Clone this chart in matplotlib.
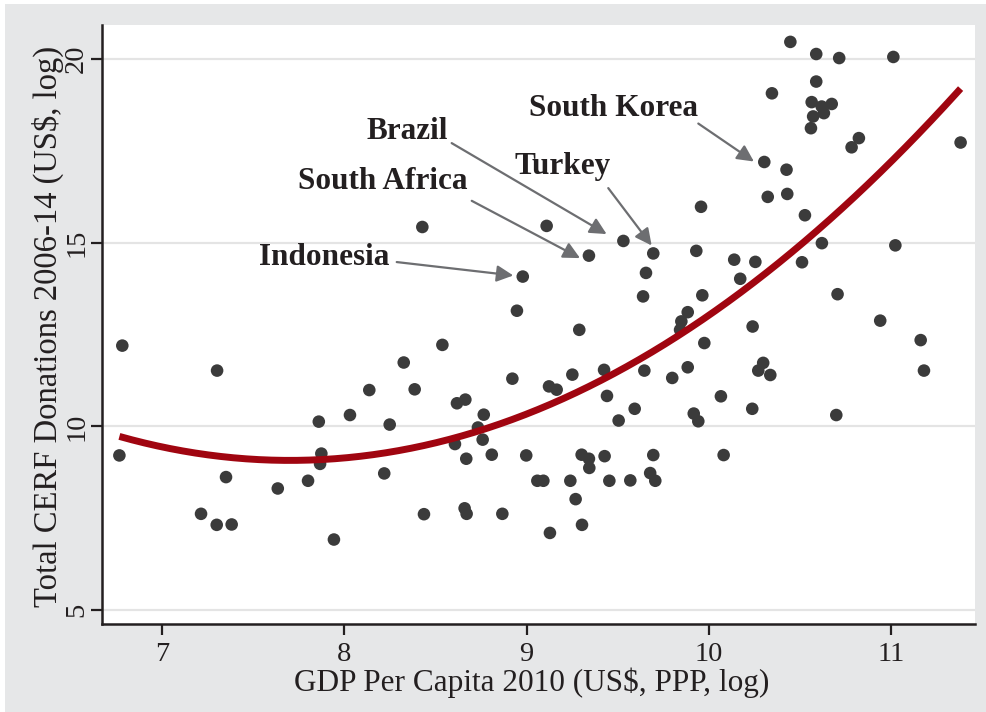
import numpy as np
import matplotlib
matplotlib.use("Agg")
import matplotlib.pyplot as plt
from matplotlib.patches import Rectangle

# ---- data ----
gdp = [6.782, 7.302, 6.766, 7.860, 8.031, 8.137, 8.249, 8.326, 7.874, 7.867,
       7.351, 7.635, 7.801, 8.219, 7.214, 7.300, 7.382, 7.943, 8.947, 9.289,
       8.538, 8.386, 8.618, 8.664, 8.765, 8.922, 9.123, 9.165, 9.251, 9.425,
       9.441, 9.646, 9.799, 9.849, 9.842, 9.884, 9.884, 9.593, 9.505, 9.917,
       9.942, 8.733, 8.607, 8.759, 8.669, 8.809, 8.998, 9.302, 9.342, 9.344,
       9.428, 9.695, 9.678, 9.706, 9.059, 9.092, 9.240, 9.454, 9.569, 9.269,
       8.437, 8.660, 8.671, 8.867, 9.304, 9.128, 9.655, 9.639, 10.240, 10.940,
       11.162, 11.180, 9.975, 10.298, 10.271, 10.337, 10.066, 10.238, 10.699, 10.081,
       8.428, 9.110, 9.531, 9.695, 9.342, 8.979, 10.447, 10.589, 10.715, 11.012,
       10.589, 10.346, 10.564, 10.619, 10.674, 10.572, 10.631, 10.560, 10.823, 10.783,
       11.381, 10.304, 10.426, 10.323, 10.430, 9.957, 10.527, 10.620, 11.023, 9.931,
       10.139, 10.255, 10.511, 10.172, 9.964, 10.706]
cerf = [12.20, 11.52, 9.21, 10.13, 10.31, 10.99, 10.05, 11.74, 9.26, 8.98,
        8.62, 8.31, 8.52, 8.72, 7.62, 7.32, 7.33, 6.92, 13.15, 12.63,
        12.22, 11.01, 10.63, 10.73, 10.32, 11.30, 11.09, 11.00, 11.41, 11.54,
        10.83, 11.52, 11.32, 12.86, 12.63, 13.11, 11.61, 10.48, 10.16, 10.35,
        10.14, 9.97, 9.52, 9.64, 9.12, 9.23, 9.21, 9.23, 9.12, 8.87,
        9.19, 9.22, 8.73, 8.52, 8.52, 8.52, 8.52, 8.52, 8.53, 8.02,
        7.61, 7.77, 7.62, 7.62, 7.32, 7.10, 14.18, 13.54, 12.72, 12.88,
        12.35, 11.52, 12.27, 11.73, 11.52, 11.40, 10.82, 10.48, 10.31, 9.22,
        15.43, 15.46, 15.05, 14.71, 14.65, 14.08, 20.47, 20.14, 20.03, 20.06,
        19.39, 19.07, 18.83, 18.71, 18.78, 18.44, 18.53, 18.12, 17.85, 17.60,
        17.73, 17.20, 16.99, 16.25, 16.33, 15.98, 15.75, 14.99, 14.93, 14.78,
        14.54, 14.48, 14.47, 14.02, 13.57, 13.60]

x_ticks = [7, 8, 9, 10, 11]
y_ticks = [5, 10, 15, 20]

# labelled countries: name, text centre (data), arrow start, arrow tip
labels = ["Indonesia", "South Africa", "Brazil", "Turkey", "South Korea"]
label_xy = [(7.891, 14.605), (8.210, 16.66), (8.344, 18.035), (9.197, 17.077), (9.479, 18.647)]
arrow_from = [(8.2875, 14.475), (8.699, 16.143), (8.589, 17.714), (9.448, 16.489), (9.942, 18.247)]
arrow_to = [(8.927, 14.110), (9.293, 14.583), (9.439, 15.237), (9.686, 14.927), (10.247, 17.213)]

# ---- style ----
plt.rcParams['font.family'] = ['Liberation Serif', 'DejaVu Serif']
BG = '#e6e7e8'
DOT = '#3b3b3b'
RED = '#a00510'
ARROW = '#6d6e71'
INK = '#231f20'

W, H = 987, 712
fig = plt.figure(figsize=(W / 100, H / 100), dpi=100, facecolor='white')
fig.patches.append(Rectangle((5 / W, 0), 1, 1 - 4 / H, transform=fig.transFigure,
                             facecolor=BG, edgecolor='none', zorder=-10))

ax = fig.add_axes([101.7 / W, 1 - 624 / H, (975 - 101.7) / W, (624 - 25) / H])
ax.set_facecolor('white')
ax.set_xlim(6.669, 11.46)
ax.set_ylim(4.62, 20.93)

for yt in y_ticks:
    ax.axhline(yt, color='#e4e4e4', lw=1.6, zorder=0)

x = np.array(gdp)
y = np.array(cerf)
ax.scatter(x, y, s=82, color=DOT, edgecolors='none', zorder=3)

coef = np.polyfit(x, y, 2)
xf = np.linspace(x.min(), x.max(), 200)
ax.plot(xf, np.polyval(coef, xf), color=RED, lw=5, solid_capstyle='butt', zorder=4)

for name, txy, a0, a1 in zip(labels, label_xy, arrow_from, arrow_to):
    ax.text(txy[0], txy[1], name, ha='center', va='center', fontsize=22.5,
            fontweight='bold', color=INK, zorder=6)
    ax.annotate('', xy=a1, xytext=a0,
                arrowprops=dict(arrowstyle='-|>', color=ARROW, lw=1.6,
                                mutation_scale=25, shrinkA=0, shrinkB=0),
                zorder=5)

for s in ['top', 'right']:
    ax.spines[s].set_visible(False)
for s in ['left', 'bottom']:
    ax.spines[s].set_color(INK)
    ax.spines[s].set_linewidth(1.8)

ax.set_xticks(x_ticks)
ax.set_yticks(y_ticks)
ax.tick_params(axis='both', direction='out', length=8, width=1.6, color=INK,
               labelsize=20.5, labelcolor=INK)
ax.tick_params(axis='x', pad=5)
ax.tick_params(axis='y', pad=1)
for lab in ax.get_yticklabels():
    lab.set_rotation(90)
    lab.set_va('center')

ax.set_xlabel('GDP Per Capita 2010 (US$, PPP, log)', fontsize=22.5, color=INK)
ax.set_ylabel('Total CERF Donations 2006-14 (US$, log)', fontsize=23.5, color=INK)
ax.xaxis.set_label_coords(0.492, -0.0718)
ax.yaxis.set_label_coords(-0.0432, 0.4975)

fig.savefig('out.png', dpi=100, facecolor=fig.get_facecolor())
